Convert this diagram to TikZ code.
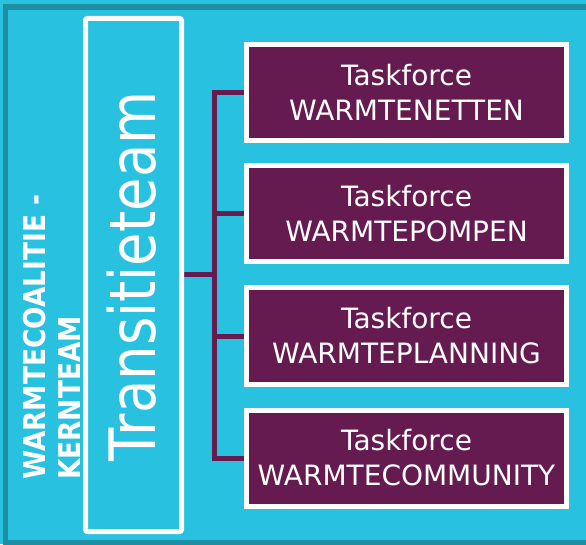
\documentclass[tikz,border=0pt]{standalone}
\usepackage{fontspec}
\setmainfont{DejaVu Sans}
\usetikzlibrary{backgrounds}
\definecolor{bgcyan}{RGB}{41,193,224}
\definecolor{frameteal}{RGB}{30,143,162}
\definecolor{tfpurple}{RGB}{101,27,80}
\tikzset{
  taskbox/.style={draw=white, line width=5pt, fill=tfpurple, text=white,
    minimum width=320pt, minimum height=96pt, inner sep=0pt, align=center,
    font=\fontsize{28}{35}\selectfont},
  ttbox/.style={draw=white, line width=5pt, rounded corners=2pt,
    minimum width=96pt, minimum height=513pt, inner sep=0pt},
  conn/.style={draw=tfpurple, line width=5pt},
  sidelabel/.style={text=white, rotate=90, xscale=0.88, inner sep=0pt,
    anchor=base west, font=\fontsize{30}{35}\selectfont\bfseries},
}
\begin{document}
\begin{tikzpicture}[x=1pt,y=1pt]
\useasboundingbox (0,0) rectangle (586,544);
\begin{pgfonlayer}{background}
  \fill[bgcyan] (0,0) rectangle (586,544);
  \draw[frameteal, line width=5.5pt] (586,537) -- (5.5,537) -- (5.5,1) -- (586,1);
\end{pgfonlayer}

\node[ttbox] (tt) at (133.5,269) {};
\node[text=white, rotate=90, xscale=0.85, anchor=base, inner sep=0pt,
  font=\fontsize{64}{64}\selectfont] (ttlabel) at (155,267.5) {Transitieteam};

\node[sidelabel] (side1) at (45,64) {WARMTECOALITIE -};
\node[sidelabel] (side2) at (80,64) {KERNTEAM};

\node[taskbox] (t1) at (406.5,451.5) {Taskforce\\WARMTENETTEN};
\node[taskbox] (t2) at (406.5,330) {Taskforce\\WARMTEPOMPEN};
\node[taskbox] (t3) at (406.5,208) {Taskforce\\WARMTEPLANNING};
\node[taskbox] (t4) at (406.5,86) {Taskforce\\WARMTECOMMUNITY};

\coordinate (bus) at (214,269);
\begin{pgfonlayer}{background}
  \draw[conn] (tt.east) -- (bus);
  \draw[conn, line cap=rect] (bus |- t1.west) -- (bus |- t4.west);
  \draw[conn] (bus |- t1.west) -- (t1.west);
  \draw[conn] (bus |- t2.west) -- (t2.west);
  \draw[conn] (bus |- t3.west) -- (t3.west);
  \draw[conn] (bus |- t4.west) -- (t4.west);
\end{pgfonlayer}
\end{tikzpicture}
\end{document}
